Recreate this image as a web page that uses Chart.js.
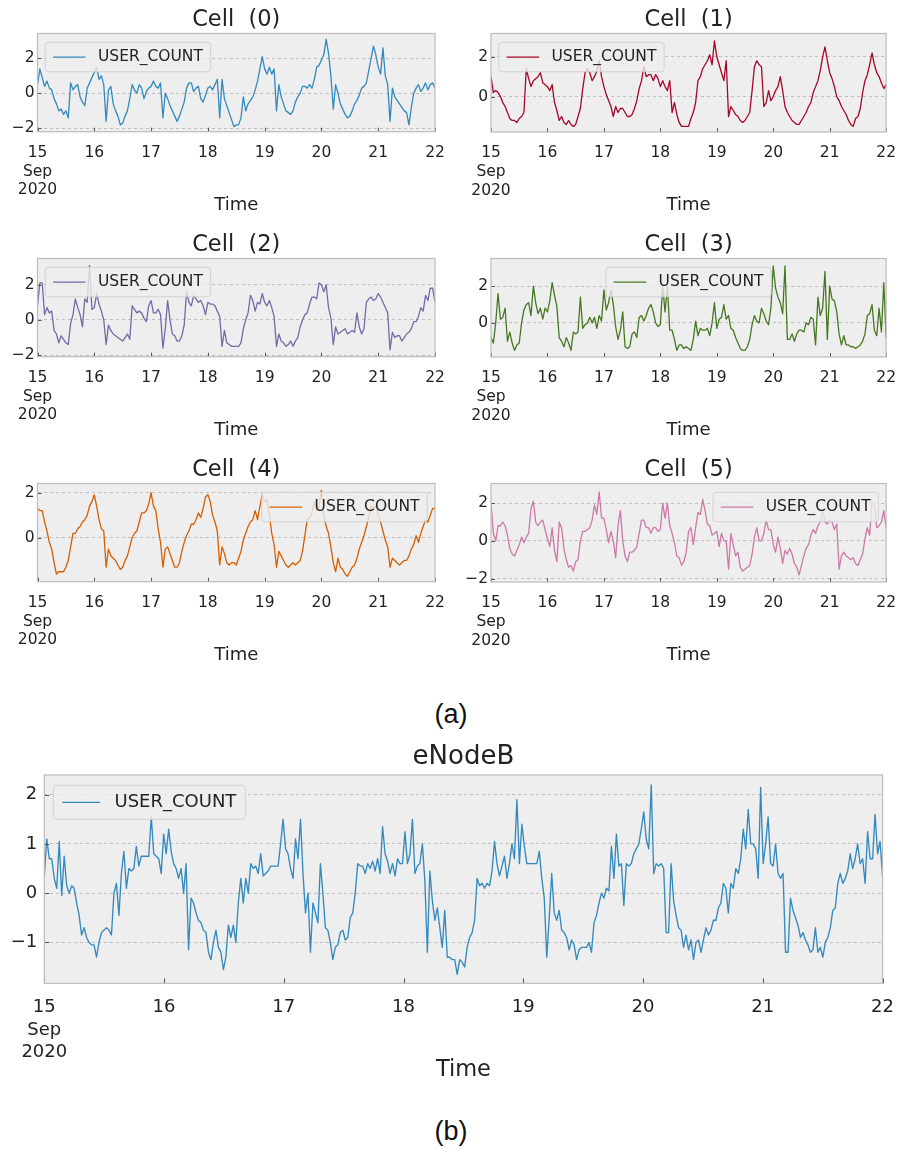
<!DOCTYPE html>
<html>
<head>
<meta charset="utf-8">
<title>USER_COUNT per cell and eNodeB</title>
<script src="https://cdn.jsdelivr.net/npm/chart.js@4.4.1/dist/chart.umd.min.js"></script>
<style>
  body { margin: 0; background: #ffffff; }
  #page { position: relative; width: 899px; height: 1149px; overflow: hidden; }
  #page canvas { position: absolute; }
  .caption {
    position: absolute; width: 100px; text-align: center;
    font-family: 'Liberation Sans', Arial, sans-serif; font-size: 27px; line-height: 30px; color: #111;
  }
</style>
</head>
<body>
<div id="page">
  <canvas id="cell0" width="450" height="225" style="left:0px;top:0px"></canvas>
  <canvas id="cell1" width="450" height="225" style="left:450px;top:0px"></canvas>
  <canvas id="cell2" width="450" height="225" style="left:0px;top:225px"></canvas>
  <canvas id="cell3" width="450" height="225" style="left:450px;top:225px"></canvas>
  <canvas id="cell4" width="450" height="225" style="left:0px;top:450px"></canvas>
  <canvas id="cell5" width="450" height="225" style="left:450px;top:450px"></canvas>
  <canvas id="enodeb" width="899" height="370" style="left:0px;top:730px"></canvas>
  <div class="caption" style="left:401px;top:699px">(a)</div>
  <div class="caption" style="left:401px;top:1116px">(b)</div>
</div>
<script>
const DAY_TICKS = ['15', '16', '17', '18', '19', '20', '21', '22'];
const MONTH_LABEL = 'Sep';
const YEAR_LABEL = '2020';
const SERIES_LABEL = 'USER_COUNT';
const X_TITLE = 'Time';
const CELL_TITLES = ['Cell  (0)', 'Cell  (1)', 'Cell  (2)', 'Cell  (3)', 'Cell  (4)', 'Cell  (5)'];
const ENB_TITLE = 'eNodeB';

// hours since 15 Sep 00:00 -- cells hourly, eNodeB every 30 min
const CELL_HOURS = [];
for (let h = 0; h <= 168; h += 1) CELL_HOURS.push(h);
const ENB_HOURS = [];
for (let h = 0; h <= 168.5; h += 0.5) ENB_HOURS.push(h);

// one row per day (24 hourly samples), last value is 22 Sep 00:00
const CELL0_USERS = [
   0.5, 1.4, 0.9, 0.4, 0.7, 0.3, 0.2, -0.3, -0.6, -1.0, -0.9, -1.2, -1.0, -1.4, 0.6, 0.2, 0.4, 0.5, -0.2, -0.5, -0.7, 0.3, 0.6, 0.9,
   1.2, 1.5, 0.8, 1.0, 0.5, -1.6, 0.2, 0.4, -0.6, -1.0, -1.3, -1.8, -1.7, -1.3, -1.0, -0.3, 0.5, 0.2, 0.0, 0.5, 0.3, -0.3, 0.1, 0.3,
   0.4, 0.7, 0.4, 0.3, 0.6, -1.4, 0.0, -0.3, -0.7, -1.0, -1.3, -1.6, -1.3, -0.9, -0.5, 0.3, 0.6, 0.6, 0.1, 0.3, 0.4, -0.3, -0.5, -0.1,
   0.3, 0.4, 0.2, 0.5, 0.8, -1.4, 0.8, -0.3, -0.7, -1.1, -1.5, -1.9, -1.8, -1.8, -1.4, -0.2, -1.0, -0.6, -0.4, -0.2, 0.2, 0.7, 1.4, 2.1,
   1.4, 1.1, 1.5, 1.1, 1.4, -1.0, 0.5, -0.2, -0.6, -1.0, -1.1, -1.2, -1.0, -0.5, -0.2, 0.0, 0.4, 0.4, 0.3, 0.5, 0.3, 0.8, 1.5, 1.6,
   1.9, 2.2, 3.1, 2.3, 1.0, -0.9, 0.5, 0.0, -0.6, -0.9, -1.2, -1.4, -1.3, -1.0, -0.6, -0.4, -0.1, 0.3, 0.4, 0.6, 1.3, 2.0, 2.7, 2.2,
   1.5, 1.1, 2.6, 1.0, 0.5, -1.6, 0.3, -0.2, -0.4, -0.6, -0.8, -1.0, -1.1, -1.8, -0.8, 0.0, 0.3, 0.5, 0.1, 0.3, 0.6, 0.2, 0.5, 0.6,
   0.3
];
const CELL1_USERS = [
   1.0, 0.2, 0.3, 0.2, 0.0, -0.3, -0.5, -0.8, -1.1, -1.2, -1.2, -1.3, -1.1, -1.0, -0.8, 1.4, 0.9, 0.5, 0.8, 0.9, 1.0, 1.2, 0.7, 0.6,
   0.5, 0.3, 0.6, -0.3, -0.7, -1.2, -1.0, -1.3, -1.4, -1.2, -1.4, -1.5, -1.4, -1.0, -0.6, 0.4, 1.2, 1.4, 1.2, 0.8, 1.0, 1.3, 1.8, 1.0,
   0.5, 0.1, -0.2, -0.5, -1.0, -0.5, -0.8, -0.6, -0.6, -0.8, -1.0, -1.0, -0.9, -0.6, -0.2, 0.4, 0.8, 1.5, 1.0, 1.1, 1.1, 0.8, 1.1, 0.9,
   0.5, 0.8, 0.5, 0.3, 0.8, -0.8, -0.3, -0.9, -1.3, -1.5, -1.5, -1.5, -1.5, -1.1, -0.8, -0.3, 0.8, 1.0, 1.4, 1.6, 1.8, 2.1, 1.6, 2.8,
   2.0, 1.6, 1.2, 0.8, 1.8, -1.0, -0.5, -0.7, -0.9, -1.0, -1.2, -1.3, -1.2, -1.0, -0.8, 0.3, 1.5, 1.8, 1.6, 1.5, -0.5, -0.3, 0.3, -0.2,
   0.0, 0.3, 0.5, 1.0, 0.3, -0.5, -0.8, -1.0, -1.2, -1.3, -1.4, -1.4, -1.2, -1.0, -0.8, -0.5, -0.3, 0.2, 0.5, 0.8, 1.3, 2.0, 2.5, 1.8,
   1.2, 0.9, 0.5, 0.0, -0.2, -0.5, -0.7, -0.9, -1.2, -1.4, -1.5, -1.1, -1.0, -0.6, 0.2, 0.8, 1.1, 1.6, 2.2, 1.6, 1.2, 1.0, 0.7, 0.4,
   0.6
];
const CELL2_USERS = [
   0.8, 2.1, 2.1, 0.3, 0.7, 0.4, 0.5, -0.6, -0.8, -1.3, -0.9, -1.1, -1.3, -1.4, -0.2, 0.3, 1.2, 0.7, 0.3, -0.4, 1.2, 1.0, 3.1, 0.6,
   0.7, 1.5, 0.9, 0.5, 0.0, -1.4, -0.3, -0.6, -0.8, -0.9, -1.0, -1.1, -1.2, -1.0, -0.8, -1.1, 0.8, 0.6, 0.4, 0.5, 0.4, 0.1, -0.1, 0.8,
   1.1, 0.4, 0.4, 0.6, 0.3, -1.6, -0.5, 1.1, 0.0, -0.8, -0.9, -1.2, -1.2, -0.9, -0.3, 1.6, 1.0, 0.8, 1.4, 1.2, 1.0, 1.1, 0.8, 0.3,
   1.0, 0.9, 0.9, 0.8, 0.5, 0.2, -1.5, -0.6, -1.3, -1.4, -1.5, -1.5, -1.5, -1.5, -1.3, -0.5, 0.0, 0.4, 1.4, 1.1, 0.5, 1.0, 0.9, 1.5,
   1.0, 0.8, 1.1, 0.7, 0.2, -1.5, -0.8, -1.2, -1.3, -1.5, -1.4, -1.2, -1.5, -1.2, -1.0, -0.4, 0.0, 0.3, 0.4, 0.9, 1.3, 1.3, 1.2, 2.1,
   2.0, 1.6, 2.0, 0.7, 0.1, -1.4, -0.4, -0.8, -0.7, -0.6, -0.5, -0.8, -0.7, -0.6, -0.7, 0.4, -0.4, -0.8, -0.5, 1.0, 1.2, 1.3, 1.1, 1.2,
   1.5, 1.3, 1.0, 0.7, 0.4, -1.7, -0.7, -1.0, -0.9, -0.9, -1.2, -1.0, -0.8, -0.7, -0.5, -0.1, -0.1, 0.2, 0.7, 0.5, 1.4, 1.1, 1.8, 1.8,
   1.0
];
const CELL3_USERS = [
   -0.8, -1.1, 0.0, 1.6, 0.2, 0.3, 0.8, -1.0, -0.5, -1.1, -1.5, -1.2, -1.1, 0.0, 0.7, 1.0, 1.1, 0.4, 2.0, 1.1, 0.5, 0.8, 0.2, 0.8,
   0.6, 1.2, 2.2, 1.5, 0.9, -0.8, -1.0, -1.3, -0.8, -1.1, -1.5, -0.5, -0.6, -0.5, 1.4, -0.3, -0.1, 0.0, 0.3, 0.0, 0.3, -0.3, 0.4, 0.1,
   1.8, 0.7, 1.1, 1.8, 1.0, -0.2, -0.9, -0.4, 0.6, -1.3, -1.4, -1.3, -0.6, -0.5, -0.8, 0.3, 0.4, 0.1, 0.4, 0.8, 1.0, 0.6, 0.0, -0.2,
   -0.1, 2.0, 0.6, 2.0, -0.4, -0.4, -0.9, -1.5, -1.2, -1.2, -1.4, -1.3, -1.4, -1.5, -0.9, 0.1, -0.7, -0.3, -0.4, -0.4, -0.3, -0.7, 0.0, 1.1,
   -0.3, 0.2, 0.3, 1.0, 0.2, 0.4, -0.3, -0.4, -0.8, -1.1, -1.4, -1.5, -1.5, -1.3, -0.9, -0.1, 0.4, 0.1, 0.0, 0.8, 0.5, 0.1, -0.1, 0.8,
   3.1, 1.9, 1.4, 1.1, 0.5, 3.1, -0.9, -0.9, -0.6, -1.0, -0.6, -0.4, -0.4, -0.5, 0.0, -0.1, 0.3, 0.2, -1.2, 1.4, 0.4, 0.8, 2.8, -0.9,
   2.0, 1.3, 1.2, 0.6, -0.6, -1.2, -0.7, -1.2, -1.2, -1.3, -1.3, -1.4, -1.3, -1.2, -1.0, -0.6, 0.4, 0.5, 1.0, -0.4, -0.7, 0.8, -0.5, 2.2,
   -0.8
];
const CELL4_USERS = [
   1.3, 1.2, 1.2, 0.7, 0.3, -0.2, -0.5, -1.1, -1.6, -1.5, -1.5, -1.5, -1.3, -1.0, -0.4, 0.2, 0.2, 0.4, 0.5, 0.7, 0.8, 1.0, 1.4, 1.6,
   1.9, 1.4, 0.8, 0.4, 0.3, -1.3, -0.5, -0.8, -0.9, -1.0, -1.2, -1.4, -1.3, -1.0, -0.8, -0.4, 0.0, 0.2, 0.3, 0.7, 1.1, 1.1, 1.2, 1.5,
   2.0, 1.4, 1.2, 0.4, -0.2, -1.3, -0.5, -0.4, -0.7, -1.0, -1.3, -1.3, -1.1, -0.6, -0.2, 0.1, 0.3, 0.6, 0.6, 0.8, 1.1, 0.9, 1.3, 1.8,
   1.9, 1.6, 1.0, 0.7, 0.3, -1.2, -0.4, -0.7, -1.1, -1.2, -1.1, -1.1, -1.2, -0.9, -0.6, -0.1, 0.2, 0.5, 0.7, 0.8, 1.2, 0.8, 1.4, 1.9,
   1.6, 1.7, 1.0, 0.2, -0.3, -1.3, -0.6, -0.8, -1.0, -1.2, -1.3, -1.2, -1.1, -1.2, -1.1, -1.0, -0.6, 0.1, 0.8, 0.9, 1.1, 1.6, 1.2, 1.4,
   2.1, 1.0, 0.5, 0.2, -0.4, -1.1, -1.5, -0.9, -1.3, -1.4, -1.6, -1.7, -1.5, -1.3, -1.2, -0.9, -0.5, -0.2, 0.1, 0.5, 0.9, 1.4, 1.3, 1.4,
   1.0, 0.7, 0.3, -0.1, -0.4, -1.3, -0.9, -1.0, -1.1, -1.2, -1.1, -1.0, -1.0, -0.8, -0.5, -0.3, 0.1, -0.2, 0.2, 0.5, 0.8, 0.7, 1.0, 1.3,
   1.3
];
const CELL5_USERS = [
   2.0, 0.4, 0.0, 0.8, 0.8, 1.0, 0.8, 0.3, -0.4, -0.7, -0.8, -0.5, -0.2, 0.2, -0.1, 0.2, 0.4, 1.7, 2.1, 1.0, 0.8, 1.0, 1.1, 0.6,
   0.1, -0.3, 0.7, -0.5, -1.1, 1.0, 0.7, -0.4, -1.0, -1.4, -1.3, -1.6, -1.1, -1.0, 0.0, 0.5, 0.5, 0.6, 0.7, 1.1, 1.9, 1.4, 2.6, 1.2,
   1.2, 0.6, -0.1, 0.5, 0.0, -0.9, 0.8, 1.6, 0.0, -0.8, -1.1, -0.6, -0.6, -0.5, -0.3, 0.4, 1.1, 1.1, 0.7, 0.7, 0.4, 0.7, 0.7, 0.5,
   0.6, 2.0, 1.2, 2.0, 0.8, 0.4, -0.1, -0.8, -0.9, -1.3, -1.1, -0.6, 0.5, 0.7, -0.2, 0.7, 1.5, 1.4, 2.2, 1.6, 0.9, 0.8, 0.3, 0.4,
   0.5, -0.3, 0.4, 0.0, 0.0, -1.5, 0.4, -0.2, -0.8, -0.6, -1.4, -1.6, -1.5, -1.4, -1.3, -0.7, 0.2, 0.7, 0.0, 0.0, 0.4, 1.1, 0.6, 0.6,
   -0.2, -0.6, 0.2, -0.4, -1.2, -0.5, -0.7, -0.4, -0.7, -1.2, -1.4, -1.8, -1.3, -0.8, -0.4, -0.2, 0.3, 0.6, 0.4, 0.8, 1.0, 1.6, 1.0, 0.9,
   1.1, 1.0, 0.6, 0.9, -1.5, -0.8, -0.6, -0.8, -0.9, -1.0, -0.9, -1.2, -1.3, -1.0, -0.7, 0.1, 0.7, 0.3, 2.1, 1.9, 0.7, 0.8, 1.0, 1.6,
   0.7
];

// ten half-hour samples (5 h) per row
const ENB_USERS = [
   0.35, 1.1, 0.7, 0.7, 0.3, 0.1, 1.05, -0.05, 0.75, 0.15,
   0.0, 0.15, 0.1, -0.2, -0.45, -0.85, -0.7, -0.9, -1.0, -1.05,
   -1.05, -1.3, -1.0, -0.8, -0.75, -0.7, -0.75, -0.85, 0.0, 0.2,
   -0.45, 0.4, 0.85, 0.1, 0.5, 0.45, 0.5, 0.95, 0.55, 0.75,
   0.75, 0.75, 0.75, 1.55, 0.8, 0.75, 0.7, 0.4, 1.2, 0.8,
   1.3, 0.85, 0.6, 0.5, 0.3, 0.5, 0.0, 0.6, -1.15, -0.1,
   -0.2, -0.4, -0.55, -0.6, -0.75, -0.8, -1.2, -1.35, -1.0, -0.75,
   -1.1, -1.2, -1.55, -1.3, -0.65, -0.9, -0.65, -1.0, -0.2, 0.3,
   -0.2, 0.3, 0.0, 0.6, 0.5, 0.55, 0.4, 0.8, 0.35, 0.4,
   0.45, 0.55, 0.55, 0.55, 0.55, 1.0, 1.5, 0.9, 0.8, 0.5,
   0.3, 1.1, 0.7, 1.5, 0.4, -0.4, 0.0, -1.2, -0.2, -0.4,
   -0.6, 0.6, 0.0, -0.7, -0.75, -1.0, -1.35, -1.1, -1.05, -0.8,
   -0.75, -0.95, -0.9, -0.5, -0.4, 0.0, 0.6, 0.55, 0.55, 0.4,
   0.6, 0.5, 0.65, 0.45, 0.7, 0.4, 1.35, 0.8, 0.65, 0.4,
   0.6, 0.35, 0.7, 0.6, 0.6, 1.25, 0.6, 0.8, 1.5, 0.4,
   0.55, 0.6, 1.0, 0.25, -1.2, 0.45, -0.15, -0.55, -0.3, -0.7,
   -1.1, -0.35, -1.3, -1.3, -1.35, -1.35, -1.65, -1.35, -1.4, -1.5,
   -1.1, -0.9, -0.8, -0.55, 0.3, 0.15, 0.2, 0.1, 0.2, 0.15,
   0.45, 1.05, 0.6, 0.35, 0.55, 0.75, 0.3, 0.6, 1.0, 0.7,
   1.9, 0.6, 1.4, 0.95, 0.6, 0.6, 0.6, 0.6, 0.6, 0.85,
   0.3, -0.1, -1.3, -0.5, 0.4, -0.4, -0.55, -0.35, -0.75, -0.8,
   -0.9, -1.15, -0.95, -1.05, -1.35, -1.15, -1.1, -1.1, -1.1, -1.0,
   -1.2, -0.6, -0.45, -0.2, 0.0, -0.1, 0.1, 0.05, 0.95, 0.3,
   1.2, 0.55, 0.6, -0.25, 0.6, 0.55, 0.6, 0.8, 0.9, 1.0,
   1.3, 1.65, 1.1, 0.9, 2.2, 0.4, 0.6, 0.55, 0.6, 0.5,
   -0.8, -0.8, 0.6, -0.15, -0.45, -0.7, -0.75, -1.1, -0.85, -1.15,
   -0.95, -1.35, -1.0, -0.95, -1.2, -0.95, -0.7, -0.85, -0.75, -0.55,
   -0.55, -0.3, -0.2, 0.2, 0.1, -0.4, 0.2, 0.1, 0.5, 0.4,
   0.7, 1.3, 0.9, 1.7, 1.0, 1.0, 0.9, 0.3, 2.15, 0.6,
   1.0, 1.55, 0.6, 0.55, 1.0, 0.4, 0.3, 0.4, -1.2, -1.2,
   -0.1, -0.35, -0.5, -0.65, -0.9, -0.8, -0.95, -1.05, -1.2, -1.15,
   -0.7, -1.2, -1.1, -1.3, -1.0, -0.9, -0.7, -0.35, -0.3, 0.2,
   0.4, 0.2, 0.3, 0.45, 0.8, 0.5, 0.7, 1.0, 0.6, 0.7,
   0.2, 1.25, 0.7, 0.7, 1.6, 0.8, 1.05, 0.35
];

const CELL_SERIES = [CELL0_USERS, CELL1_USERS, CELL2_USERS, CELL3_USERS, CELL4_USERS, CELL5_USERS];
const CELL_COLORS = ['#348ABD', '#A60628', '#7A68A6', '#467821', '#D55E00', '#CC79A7'];
const CELL_Y_LIMITS = [[-2.19, 3.42], [-1.78, 3.17], [-2.09, 3.49], [-1.86, 3.51], [-1.94, 2.40], [-2.18, 3.04]];
const CELL_LEGEND_SPOT = ['left', 'left', 'left', 'center', 'right', 'right'];

Chart.defaults.font.family = "'DejaVu Sans', sans-serif";
Chart.defaults.color = '#222222';

// axes background, spines, inward ticks, legend box and title
const panelDecor = {
   id: 'panelDecor',
   beforeDraw (chart, args, opts)
   {
      let ctx = chart.ctx, a = chart.chartArea;
      ctx.save();
      ctx.fillStyle = '#eeeeee';
      ctx.fillRect(a.left, a.top, a.right - a.left, a.bottom - a.top);
      ctx.restore();
   },
   afterDatasetsDraw (chart, args, opts)
   {
      let ctx = chart.ctx, a = chart.chartArea;
      let xs = chart.scales.x, ys = chart.scales.y;
      ctx.save();

      ctx.strokeStyle = '#555555';
      ctx.lineWidth = 1;
      ctx.beginPath();
      xs.ticks.forEach(t => {
         let px = Math.round(xs.getPixelForValue(t.value)) + 0.5;
         ctx.moveTo(px, a.bottom);
         ctx.lineTo(px, a.bottom - opts.tickLen);
      });
      ys.ticks.forEach(t => {
         let py = Math.round(ys.getPixelForValue(t.value)) + 0.5;
         ctx.moveTo(a.left, py);
         ctx.lineTo(a.left + opts.tickLen, py);
      });
      ctx.stroke();

      ctx.strokeStyle = '#bcbcbc';
      ctx.lineWidth = 1.2;
      ctx.strokeRect(a.left, a.top, a.right - a.left, a.bottom - a.top);

      // legend
      let ds = chart.data.datasets[0];
      let fs = opts.legendSize;
      ctx.font = fs + "px 'DejaVu Sans'";
      let tw = ctx.measureText(ds.label).width;
      let pad = 0.5 * fs, handle = 2.1 * fs, gap = 0.8 * fs;
      let w = pad + handle + gap + tw + pad, h = 1.9 * fs;
      let x;
      if (opts.legendSpot === 'right') x = a.right - 0.5 * fs - w;
      else if (opts.legendSpot === 'center') x = (a.left + a.right) / 2 - w / 2;
      else x = a.left + 0.5 * fs;
      let y = a.top + 0.57 * fs;
      ctx.beginPath();
      ctx.roundRect(x, y, w, h, 0.2 * fs);
      ctx.fillStyle = 'rgba(238, 238, 238, 0.8)';
      ctx.fill();
      ctx.strokeStyle = 'rgba(204, 204, 204, 0.8)';
      ctx.lineWidth = 1;
      ctx.stroke();
      ctx.beginPath();
      ctx.moveTo(x + pad, y + h / 2);
      ctx.lineTo(x + pad + handle, y + h / 2);
      ctx.strokeStyle = ds.borderColor;
      ctx.lineWidth = ds.borderWidth;
      ctx.stroke();
      ctx.fillStyle = '#222222';
      ctx.textAlign = 'left';
      ctx.textBaseline = 'middle';
      ctx.fillText(ds.label, x + pad + handle + gap, y + h / 2);

      // title
      ctx.font = opts.titleSize + "px 'DejaVu Sans'";
      ctx.textAlign = 'center';
      ctx.textBaseline = 'alphabetic';
      ctx.fillText(opts.title, (a.left + a.right) / 2, opts.titleBaseline);

      ctx.restore();
   }
};

function dayLabel (value)
{
   let i = Math.round(value / 24);
   return i === 0 ? [DAY_TICKS[0], MONTH_LABEL, YEAR_LABEL] : DAY_TICKS[i];
}

function makePanel (canvasId, hours, values, spec)
{
   let ctx = document.getElementById(canvasId);
   let points = hours.map((hr, i) => ({x: hr, y: values[i]}));
   return new Chart(ctx, {
      type: 'line',
      data: {
         datasets: [{
            label: SERIES_LABEL,
            data: points,
            borderColor: spec.color,
            borderWidth: spec.lineWidth,
            borderJoinStyle: 'round',
            pointRadius: 0,
            tension: 0,
            fill: false
         }]
      },
      options: {
         responsive: false,
         animation: false,
         devicePixelRatio: 1,
         events: [],
         layout: { autoPadding: false, padding: spec.padding },
         plugins: {
            legend: { display: false },
            tooltip: { enabled: false },
            panelDecor: {
               title: spec.title,
               titleSize: spec.titleSize,
               titleBaseline: spec.titleBaseline,
               legendSize: spec.legendSize,
               legendSpot: spec.legendSpot,
               tickLen: spec.tickLen
            }
         },
         scales: {
            x: {
               type: 'linear',
               min: 0,
               max: spec.xMax,
               afterFit: s => { s.height = spec.xAxisHeight; },
               grid: { display: false },
               border: { display: false },
               ticks: {
                  stepSize: 24,
                  includeBounds: false,
                  autoSkip: false,
                  maxRotation: 0,
                  padding: spec.xPad,
                  color: '#222222',
                  font: { size: spec.tickSize, lineHeight: spec.tickLine },
                  callback: dayLabel
               },
               title: {
                  display: true,
                  text: X_TITLE,
                  padding: 0,
                  color: '#222222',
                  font: { size: spec.labelSize, lineHeight: 1.2 }
               }
            },
            y: {
               type: 'linear',
               min: spec.yMin,
               max: spec.yMax,
               afterFit: s => { s.width = spec.yAxisWidth; },
               grid: { color: '#b2b2b2', lineWidth: 0.8, drawTicks: false },
               border: { display: false, dash: [3, 3] },
               ticks: {
                  stepSize: spec.yStep,
                  includeBounds: false,
                  padding: spec.yPad,
                  color: '#222222',
                  font: { size: spec.tickSize },
                  callback: v => (v < 0 ? '\u2212' + (-v) : String(v))
               }
            }
         }
      },
      plugins: [panelDecor]
   });
}

let chartList = [];
for (let n = 0; n < CELL_SERIES.length; n++)
{
   let rightCol = n % 2 === 1;
   chartList.push(makePanel('cell' + n, CELL_HOURS, CELL_SERIES[n], {
      color: CELL_COLORS[n],
      lineWidth: 1.3,
      title: CELL_TITLES[n],
      titleSize: 22.5,
      titleBaseline: 26,
      legendSize: 15.5,
      legendSpot: CELL_LEGEND_SPOT[n],
      tickLen: 4,
      tickSize: 15.5,
      tickLine: 1.2,
      labelSize: 18,
      xMax: 168,
      xPad: 4,
      yPad: 3,
      yStep: 2,
      yMin: CELL_Y_LIMITS[n][0],
      yMax: CELL_Y_LIMITS[n][1],
      yAxisWidth: rightCol ? 41 : 37.5,
      xAxisHeight: rightCol ? 84.2 : 84.5,
      padding: { top: 33.5, left: 0, right: rightCol ? 13 : 15, bottom: 8.8 }
   }));
}

chartList.push(makePanel('enodeb', ENB_HOURS, ENB_USERS, {
   color: '#348ABD',
   lineWidth: 1.35,
   title: ENB_TITLE,
   titleSize: 26,
   titleBaseline: 34,
   legendSize: 18,
   legendSpot: 'left',
   tickLen: 5,
   tickSize: 18,
   tickLine: 1.25,
   labelSize: 22.5,
   xMax: 168.5,
   xPad: 5,
   yPad: 7,
   yStep: 1,
   yMin: -1.83,
   yMax: 2.40,
   yAxisWidth: 44.3,
   xAxisHeight: 100.7,
   padding: { top: 45, left: 0, right: 14, bottom: 16 }
}));
</script>
</body>
</html>
